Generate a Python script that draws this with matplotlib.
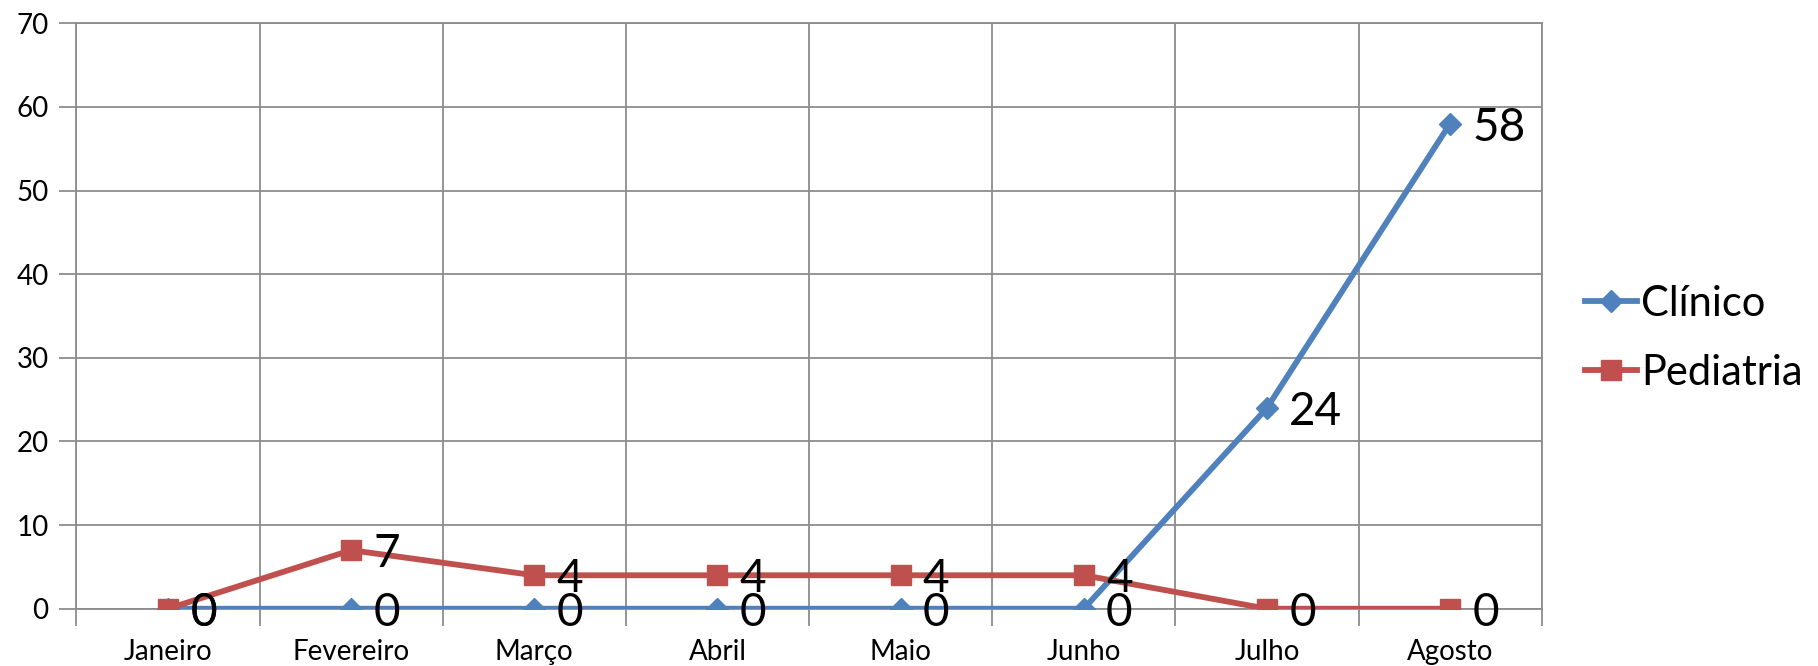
import matplotlib.pyplot as plt
import numpy as np

plt.rcParams['font.family'] = ['Lato', 'DejaVu Sans']

meses = ['Janeiro', 'Fevereiro', 'Março', 'Abril', 'Maio', 'Junho', 'Julho', 'Agosto']
clinico = [0, 0, 0, 0, 0, 0, 24, 58]
pediatria = [0, 7, 4, 4, 4, 4, 0, 0]

azul = '#4F81BD'
vermelho = '#C0504D'
cinza = '#8C8C8C'

fig = plt.figure(figsize=(18.18, 6.66), dpi=100)
ax = fig.add_axes([0.042, 0.086, 0.806, 0.879])

x = np.arange(len(meses))
ax.plot(x, clinico, color=azul, lw=4.2, marker='D', ms=11, label='Clínico', zorder=3)
ax.plot(x, pediatria, color=vermelho, lw=4.2, marker='s', ms=14, label='Pediatria', zorder=4)

# rótulos de dados à direita de cada ponto
for serie in (clinico, pediatria):
    for xi, v in zip(x, serie):
        ax.annotate(str(v), (xi, v), xytext=(16, -3), textcoords='offset points',
                    ha='left', va='center', fontsize=33, color='black', zorder=5)

ax.set_xlim(-0.5, len(meses) - 0.5)
ax.set_ylim(0, 70)
ax.set_yticks(range(0, 71, 10))
ax.set_xticks(x)
ax.set_xticklabels(meses)
ax.set_xticks(np.arange(-0.5, len(meses)), minor=True)

ax.grid(True, which='minor', axis='x', color=cinza, lw=1.3)
ax.grid(True, which='major', axis='y', color=cinza, lw=1.3)
ax.set_axisbelow(True)

for s in ax.spines.values():
    s.set_color(cinza)
    s.set_linewidth(1.3)

ax.tick_params(axis='x', which='major', length=0, pad=22, labelsize=20)
ax.tick_params(axis='x', which='minor', length=12, color=cinza, width=1.3)
ax.tick_params(axis='y', length=12, color=cinza, width=1.3, pad=8, labelsize=20)

ax.legend(loc='center left', bbox_to_anchor=(1.018, 0.462), frameon=False, fontsize=30,
          handlelength=1.25, handletextpad=0.1, labelspacing=0.75, borderaxespad=0)

fig.savefig('out.png', dpi=100)
